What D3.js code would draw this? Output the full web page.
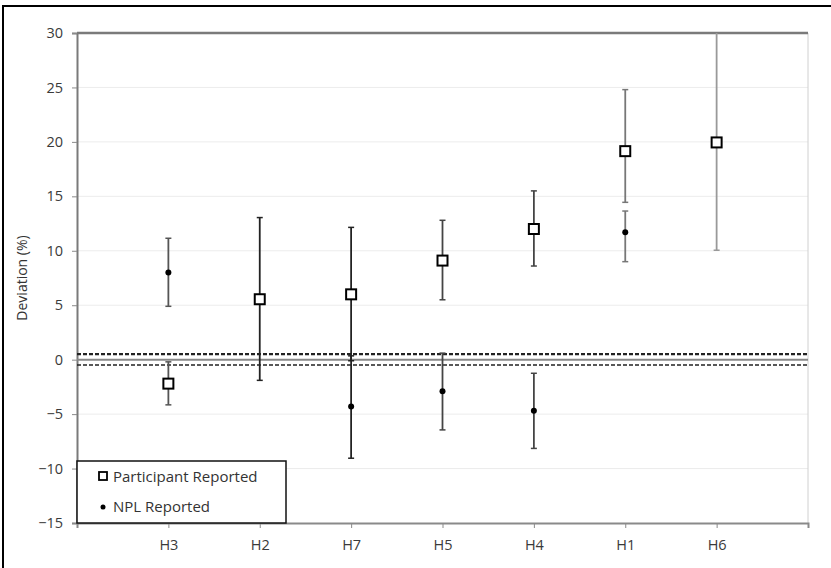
<!DOCTYPE html>
<html><head><meta charset="utf-8">
<script src="https://cdn.jsdelivr.net/npm/d3@7"></script>
<style>body{margin:0;background:#fff;}svg{display:block;font-family:"Open Sans","DejaVu Sans",sans-serif;}</style>
</head><body><svg id="c" width="831" height="568"></svg>
<script>
const categories = ["H3","H2","H7","H5","H4","H1","H6"];
const participant = [-2.2, 5.55, 6.0, 9.1, 12.0, 19.15, 19.95];
const participantHigh = [-0.2, 13.05, 12.15, 12.8, 15.5, 24.8, 30.0];
const participantLow = [-4.15, -1.9, -0.1, 5.5, 8.6, 14.45, 10.05];
const npl = [8.0, null, -4.3, -2.9, -4.7, 11.7, null];
const nplHigh = [11.15, null, 0.35, 0.6, -1.25, 13.65, null];
const nplLow = [4.9, null, -9.05, -6.45, -8.15, 9.0, null];
const yTicks = [-15,-10,-5,0,5,10,15,20,25,30];
const refLines = {zero:0, upper:0.5, lower:-0.5};

const svg = d3.select("#c");
const L=77, R=808, T=33, B=523;
const x = d3.scaleLinear().domain([0, categories.length+1]).range([L,R]);
const y = d3.scaleLinear().domain([-15,30]).range([B,T]);

// outer frame
svg.append("rect").attr("x",3).attr("y",6).attr("width",840).attr("height",580)
  .attr("fill","none").attr("stroke","#000").attr("stroke-width",2);

// gridlines
svg.append("g").selectAll("line").data(yTicks.filter(d=>d!==0 && d!==30 && d!==-15)).join("line")
  .attr("x1",L).attr("x2",R).attr("y1",d=>y(d)).attr("y2",d=>y(d))
  .attr("stroke","#ececec").attr("stroke-width",1);

// right border of plot area
svg.append("line").attr("x1",R).attr("x2",R).attr("y1",T).attr("y2",B)
  .attr("stroke","#d0d0d0").attr("stroke-width",1);

// top line at 30
svg.append("line").attr("x1",L).attr("x2",R).attr("y1",y(30)).attr("y2",y(30))
  .attr("stroke","#7a7a7a").attr("stroke-width",2.5);

// y axis
const ya = svg.append("g").attr("transform",`translate(${L},0)`)
  .call(d3.axisLeft(y).tickValues(yTicks).tickSize(5).tickPadding(9).tickFormat(d3.format("d")));
ya.select(".domain").attr("stroke","#7a7a7a").attr("stroke-width",2);
ya.selectAll(".tick line").attr("stroke","#8a8a8a");
ya.selectAll("text").attr("fill","#3a3a3a").attr("font-family",'"Open Sans","DejaVu Sans",sans-serif').attr("font-size",14.5);

// x axis
const xa = svg.append("g").attr("transform",`translate(0,${B})`)
  .call(d3.axisBottom(x).tickValues(d3.range(0,categories.length+2)).tickSize(5).tickPadding(12)
    .tickFormat(d=> (d>=1 && d<=categories.length) ? categories[d-1] : ""));
xa.select(".domain").attr("stroke","#8a8a8a").attr("stroke-width",2);
xa.selectAll(".tick line").attr("stroke","#8a8a8a");
xa.selectAll("text").attr("fill","#3a3a3a").attr("font-family",'"Open Sans","DejaVu Sans",sans-serif').attr("font-size",14.5);

// y label
svg.append("text").attr("transform",`translate(27,${(T+B)/2}) rotate(-90)`)
  .attr("text-anchor","middle").attr("font-size",14).attr("fill","#333")
  .text("Deviation (%)");

// reference lines
svg.append("line").attr("x1",L).attr("x2",R).attr("y1",y(refLines.zero)).attr("y2",y(refLines.zero))
  .attr("stroke","#888").attr("stroke-width",2);
svg.append("line").attr("x1",L).attr("x2",R).attr("y1",y(refLines.upper)).attr("y2",y(refLines.upper))
  .attr("stroke","#222").attr("stroke-width",2.2).attr("stroke-dasharray","4,2");
svg.append("line").attr("x1",L).attr("x2",R).attr("y1",y(refLines.lower)).attr("y2",y(refLines.lower))
  .attr("stroke","#222").attr("stroke-width",1.5).attr("stroke-dasharray","4,2");

// error bars
const barColor = ["#555","#222","#222","#444","#444","#777","#999"];
function errBars(vals, hi, lo){
  const g = svg.append("g");
  categories.forEach((c,i)=>{
    if(vals[i]==null) return;
    const cx = x(i+1);
    g.append("line").attr("x1",cx).attr("x2",cx).attr("y1",y(hi[i])).attr("y2",y(lo[i]))
      .attr("stroke",barColor[i]).attr("stroke-width",1.8);
    [hi[i],lo[i]].forEach(v=>{
      if(v>=30) return;
      g.append("line").attr("x1",cx-3).attr("x2",cx+3).attr("y1",y(v)).attr("y2",y(v))
        .attr("stroke",barColor[i]).attr("stroke-width",1.5);
    });
  });
}
errBars(participant, participantHigh, participantLow);
errBars(npl, nplHigh, nplLow);

// markers
svg.append("g").selectAll("circle").data(npl.map((v,i)=>({v,i})).filter(d=>d.v!=null)).join("circle")
  .attr("cx",d=>x(d.i+1)).attr("cy",d=>y(d.v)).attr("r",3).attr("fill","#000");
svg.append("g").selectAll("rect").data(participant.map((v,i)=>({v,i}))).join("rect")
  .attr("x",d=>x(d.i+1)-5).attr("y",d=>y(d.v)-5).attr("width",10).attr("height",10)
  .attr("fill","#fff").attr("stroke","#000").attr("stroke-width",2);

// legend
const lg = svg.append("g");
lg.append("rect").attr("x",77).attr("y",461).attr("width",209).attr("height",62)
  .attr("fill","#fff").attr("stroke","#111").attr("stroke-width",1.5);
lg.append("rect").attr("x",99).attr("y",472).attr("width",8).attr("height",8)
  .attr("fill","#fff").attr("stroke","#000").attr("stroke-width",1.8);
lg.append("text").attr("x",113).attr("y",482).attr("font-size",15).attr("fill","#333").text("Participant Reported");
lg.append("circle").attr("cx",103).attr("cy",507).attr("r",2.5).attr("fill","#000");
lg.append("text").attr("x",113).attr("y",512).attr("font-size",15).attr("fill","#333").text("NPL Reported");
</script></body></html>
